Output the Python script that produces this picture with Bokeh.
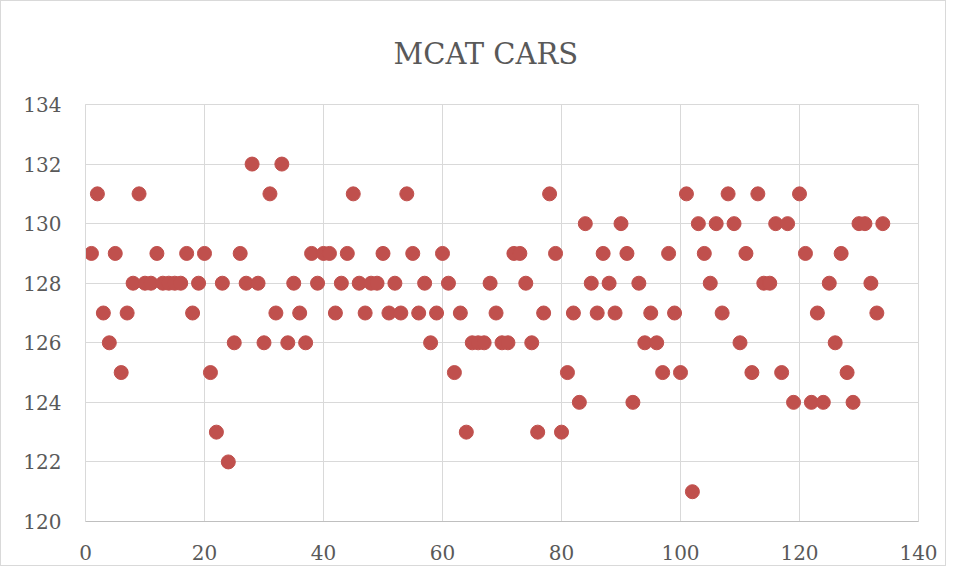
from bokeh.plotting import figure
from bokeh.models import FixedTicker, Range1d
from bokeh.embed import file_html
from bokeh.resources import INLINE

# ---- data ----
title_text = "MCAT CARS"
attempt = [
    1, 2, 3, 4, 5, 6, 7, 8, 9, 10,
    11, 12, 13, 14, 15, 16, 17, 18, 19, 20,
    21, 22, 23, 24, 25, 26, 27, 28, 29, 30,
    31, 32, 33, 34, 35, 36, 37, 38, 39, 40,
    41, 42, 43, 44, 45, 46, 47, 48, 49, 50,
    51, 52, 53, 54, 55, 56, 57, 58, 59, 60,
    61, 62, 63, 64, 65, 66, 67, 68, 69, 70,
    71, 72, 73, 74, 75, 76, 77, 78, 79, 80,
    81, 82, 83, 84, 85, 86, 87, 88, 89, 90,
    91, 92, 93, 94, 95, 96, 97, 98, 99, 100,
    101, 102, 103, 104, 105, 106, 107, 108, 109, 110,
    111, 112, 113, 114, 115, 116, 117, 118, 119, 120,
    121, 122, 123, 124, 125, 126, 127, 128, 129, 130,
    131, 132, 133, 134,
]
score = [
    129, 131, 127, 126, 129, 125, 127, 128, 131, 128,
    128, 129, 128, 128, 128, 128, 129, 127, 128, 129,
    125, 123, 128, 122, 126, 129, 128, 132, 128, 126,
    131, 127, 132, 126, 128, 127, 126, 129, 128, 129,
    129, 127, 128, 129, 131, 128, 127, 128, 128, 129,
    127, 128, 127, 131, 129, 127, 128, 126, 127, 129,
    128, 125, 127, 123, 126, 126, 126, 128, 127, 126,
    126, 129, 129, 128, 126, 123, 127, 131, 129, 123,
    125, 127, 124, 130, 128, 127, 129, 128, 127, 130,
    129, 124, 128, 126, 127, 126, 125, 129, 127, 125,
    131, 121, 130, 129, 128, 130, 127, 131, 130, 126,
    129, 125, 131, 128, 128, 130, 125, 130, 124, 131,
    129, 124, 127, 124, 128, 126, 129, 125, 124, 130,
    130, 128, 127, 130,
]
x_ticks = [0, 20, 40, 60, 80, 100, 120, 140]
y_ticks = [120, 122, 124, 126, 128, 130, 132, 134]

FONT = "DejaVu Serif"
TXT = "#595959"

p = figure(
    width=944, height=564,
    output_backend="svg", toolbar_location=None,
    x_range=Range1d(0, 140), y_range=Range1d(120, 134),
    min_border_left=84, min_border_right=27,
    min_border_top=20, min_border_bottom=44,
    frame_width=833, frame_height=417,
    title=title_text,
)
p.styles = {"border": "1px solid #d9d9d9", "box-sizing": "border-box"}

p.title.align = "left"
p.title.offset = 308
p.title.text_font = FONT
p.title.text_font_size = "29px"
p.title.text_font_style = "normal"
p.title.text_color = TXT
p.title.standoff = 67

p.outline_line_color = "#d9d9d9"
p.outline_line_width = 1
p.background_fill_color = "white"
p.border_fill_color = "white"

p.xaxis.ticker = FixedTicker(ticks=x_ticks)
p.yaxis.ticker = FixedTicker(ticks=y_ticks)
for ax in (p.xaxis[0], p.yaxis[0]):
    ax.major_tick_line_color = None
    ax.minor_tick_line_color = None
    ax.major_tick_in = 0
    ax.major_tick_out = 0
    ax.major_label_text_font = FONT
    ax.major_label_text_font_size = "20px"
    ax.major_label_text_color = TXT
p.xaxis.axis_line_color = "#bfbfbf"
p.yaxis.axis_line_color = "#d9d9d9"
p.xaxis.major_label_standoff = 23
p.yaxis.major_label_standoff = 24

p.xgrid.ticker = FixedTicker(ticks=x_ticks)
p.ygrid.ticker = FixedTicker(ticks=y_ticks)
p.xgrid.grid_line_color = "#d9d9d9"
p.ygrid.grid_line_color = "#d9d9d9"

p.scatter(attempt, score, size=14, marker="circle",
          fill_color="#c0504d", line_color="#c0504d")

open("out.html", "w").write(file_html(p, INLINE))
